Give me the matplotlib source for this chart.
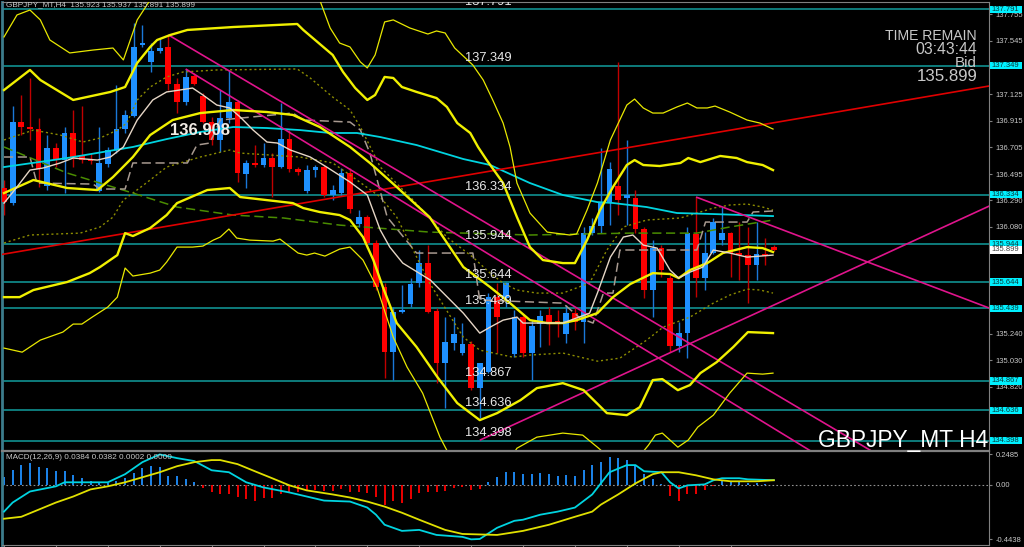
import matplotlib
matplotlib.use('Agg')
import matplotlib.pyplot as plt
import matplotlib.transforms as mtransforms
from matplotlib import font_manager
from matplotlib.patches import Rectangle
import numpy as np

# GBPJPY H4 candles, oldest first
opens = [136.386, 136.267, 136.905, 136.866, 136.850, 136.402, 136.701, 136.606, 136.819, 136.646,
         136.614, 136.362, 136.575, 136.685, 136.850, 136.953, 137.512, 137.378, 137.464, 137.496,
         137.205, 137.063, 137.268, 137.110, 136.905, 136.764, 136.937, 137.063, 136.496, 136.582,
         136.567, 136.622, 136.551, 136.772, 136.535, 136.362, 136.527, 136.551, 136.331, 136.347,
         136.504, 136.103, 136.158, 135.952, 135.606, 135.095, 135.410, 135.472, 135.637, 135.795,
         135.417, 135.007, 135.165, 135.087, 135.157, 134.811, 134.937, 135.527, 135.519, 135.079,
         135.370, 135.087, 135.315, 135.386, 135.338, 135.236, 135.402, 135.330, 136.031, 136.087,
         136.267, 136.402, 136.307, 136.307, 136.063, 135.582, 135.913, 135.677, 135.142, 135.244,
         136.024, 135.677, 135.874, 135.976, 136.031, 135.874, 135.858, 135.780, 135.866, 135.923]
highs = [136.449, 137.032, 137.118, 137.252, 136.937, 136.803, 136.740, 136.866, 137.000, 137.032,
         136.662, 136.866, 136.709, 137.197, 137.000, 137.685, 137.670, 137.527, 137.567, 137.591,
         137.252, 137.323, 137.291, 137.134, 136.945, 137.157, 137.315, 137.079, 136.606, 136.725,
         136.740, 136.662, 137.055, 136.842, 136.551, 136.567, 136.567, 136.567, 136.409, 136.543,
         136.543, 136.212, 136.173, 135.976, 135.637, 135.449, 135.622, 135.677, 135.898, 135.937,
         135.441, 135.370, 135.370, 135.322, 135.181, 135.007, 135.559, 135.637, 135.645, 135.425,
         135.386, 135.346, 135.425, 135.449, 135.425, 135.464, 135.441, 136.079, 136.150, 136.701,
         136.590, 137.378, 136.764, 136.370, 136.079, 135.976, 135.937, 135.700, 135.330, 136.079,
         136.315, 136.039, 136.150, 136.236, 136.039, 136.118, 136.079, 136.118, 135.992, 135.937]
lows = [136.173, 136.252, 136.803, 136.764, 136.394, 136.370, 136.551, 136.347, 136.551, 136.582,
        136.575, 136.354, 136.551, 136.662, 136.819, 136.945, 137.496, 137.300, 137.449, 137.157,
        136.977, 137.040, 137.197, 136.897, 136.725, 136.670, 136.897, 136.433, 136.386, 136.551,
        136.551, 136.315, 136.543, 136.512, 136.488, 136.347, 136.472, 136.315, 136.291, 136.323,
        136.189, 136.079, 135.913, 135.582, 134.890, 134.874, 135.402, 135.449, 135.606, 135.402,
        134.850, 134.653, 135.110, 135.071, 134.795, 134.574, 134.929, 135.087, 135.449, 135.055,
        135.055, 134.874, 135.134, 135.150, 135.212, 135.165, 135.267, 135.165, 136.016, 136.031,
        136.095, 136.173, 136.095, 136.031, 135.519, 135.370, 135.685, 135.095, 135.095, 135.047,
        135.527, 135.582, 135.866, 135.937, 135.685, 135.661, 135.480, 135.661, 135.780, 135.891]
closes = [136.275, 136.905, 136.866, 136.850, 136.535, 136.701, 136.606, 136.819, 136.630, 136.606,
          136.598, 136.582, 136.685, 136.850, 136.961, 137.496, 137.527, 137.464, 137.488, 137.205,
          137.063, 137.260, 137.205, 136.905, 136.764, 136.937, 137.063, 136.504, 136.582, 136.567,
          136.622, 136.551, 136.772, 136.535, 136.512, 136.527, 136.551, 136.331, 136.370, 136.504,
          136.220, 136.158, 135.952, 135.606, 135.095, 135.410, 135.425, 135.630, 135.795, 135.410,
          135.007, 135.173, 135.236, 135.157, 134.811, 135.007, 135.527, 135.370, 135.637, 135.370,
          135.087, 135.299, 135.378, 135.322, 135.322, 135.402, 135.330, 136.031, 136.087, 136.267,
          136.535, 136.291, 136.331, 136.063, 135.582, 135.913, 135.740, 135.142, 135.244, 136.031,
          135.677, 135.874, 136.118, 136.031, 135.874, 135.858, 135.780, 135.866, 135.850, 135.899]

# bollinger bands (1, 2, 3 sigma), read as (bar, price) vertices
u3_x = [0, 1.5, 3, 4.2, 5.3, 7.6, 10.3, 12.6, 13.8, 14.6, 15.4, 16.9, 19.8, 22.7, 28.4, 34.2, 36.5, 37.7, 38.8, 40,
        41.2, 42, 42.9, 44, 45, 46.9, 49, 50, 51, 52.1, 54.2, 55.4, 56.5, 57.7, 58.5, 59.3, 60.8, 62.8, 65.4, 66.2,
        67.4, 68.6, 70.1, 72, 72.9, 73.9, 75, 76.2, 77.8, 79, 80.1, 81.3, 82.2, 83.9, 85.9, 87.4, 88.9]
u3_y = [137.575, 137.748, 137.787, 137.709, 137.551, 137.449, 137.472, 137.488, 137.394, 137.551,
        137.709, 137.866, 138.023, 138.102, 138.142, 138.023, 137.866, 137.646, 137.527, 137.496,
        137.378, 137.331, 137.433, 137.693, 137.709, 137.646, 137.598, 137.622, 137.606, 137.488,
        137.354, 137.236, 137.079, 136.897, 136.709, 136.425, 136.189, 136.039, 136.016, 136.024,
        136.212, 136.425, 136.764, 137.039, 137.086, 137.016, 136.976, 136.976, 137.024, 137.055,
        137.016, 137.016, 137.031, 136.984, 136.921, 136.897, 136.850]
u2_x = [0, 3, 4.2, 8, 12.3, 14, 15.4, 16.9, 17.7, 19.2, 21.2, 26.5, 33.9, 34.6, 38, 39.2, 40.6, 42, 42.9, 44,
        45, 46, 47.7, 50, 51.2, 52.4, 53.9, 54.8, 55.8, 57.7, 59.3, 60.8, 62.3, 64.6, 66, 67.4, 68.9, 70.4, 72, 72.9,
        73.9, 75.8, 78.2, 79.1, 80.5, 82.8, 84.7, 85.9, 87.7, 88.9]
u2_y = [137.157, 137.315, 137.236, 137.079, 137.142, 137.181, 137.370, 137.496, 137.551, 137.590,
        137.630, 137.653, 137.677, 137.630, 137.433, 137.299, 137.173, 137.079, 137.118, 137.260,
        137.252, 137.181, 137.142, 137.094, 137.024, 136.897, 136.819, 136.709, 136.606, 136.425,
        136.157, 135.921, 135.819, 135.795, 135.795, 135.976, 136.212, 136.394, 136.567, 136.606,
        136.567, 136.559, 136.583, 136.622, 136.590, 136.638, 136.622, 136.590, 136.567, 136.527]
mid_x = [0, 3.4, 7.3, 10.8, 12.6, 14.9, 16.9, 19.5, 22.7, 26.5, 30.4, 33.4, 36.5, 40, 42.3, 45.4, 49.2, 53.1,
         56.2, 58.5, 60.8, 62.8, 64.6, 66.2, 68.6, 70.4, 72.4, 75, 77, 78, 79.3, 81.3, 83.1, 85.9, 87.7, 88.9]
mid_y = [136.346, 136.449, 136.386, 136.370, 136.472, 136.630, 136.803, 136.921, 136.976, 137.000,
         136.984, 136.961, 136.866, 136.709, 136.583, 136.394, 136.157, 135.764, 135.606, 135.480,
         135.346, 135.323, 135.323, 135.346, 135.401, 135.527, 135.630, 135.716, 135.709, 135.677,
         135.740, 135.795, 135.874, 135.921, 135.913, 135.882]
l2_x = [0, 1.8, 3.4, 7.3, 9.9, 11.1, 13.1, 14, 14.9, 16.9, 18.8, 20, 23.5, 26.1, 27.3, 33.4, 34.6, 36.5, 38.8, 40,
        41.5, 42.7, 43.8, 45.4, 47.7, 50.1, 52.4, 55, 57, 59.7, 61.6, 64.6, 67, 69.7, 72, 73.5, 75, 76.1, 77.9, 79.3,
        80.5, 82.4, 84.3, 86, 88.9]
l2_y = [135.527, 135.527, 135.583, 135.646, 135.716, 135.764, 135.858, 136.031, 136.008, 136.071,
        136.173, 136.267, 136.370, 136.386, 136.315, 136.267, 136.228, 136.197, 136.173, 136.134,
        136.000, 135.819, 135.606, 135.323, 135.134, 134.898, 134.693, 134.559, 134.614, 134.716,
        134.811, 134.850, 134.795, 134.614, 134.598, 134.661, 134.874, 134.882, 134.795, 134.835,
        134.929, 135.016, 135.134, 135.252, 135.244]
l3_x = [0, 2.1, 4.2, 6.8, 8, 9, 10.2, 12, 13.1, 14, 14.9, 16.9, 18, 18.8, 20, 21.8, 23, 24.2, 25, 26,
        26.9, 28.4, 31.1, 31.9, 32.8, 34, 35, 35.9, 37.1, 38.8, 40, 41.5, 43.1, 45, 46.6, 48.4, 50.4, 52.7, 55, 57.3,
        59.3, 61.6, 64.6, 66.9, 68.6, 70.6, 72.9, 74.5, 75.3, 76.1, 77.9, 79.1, 80.2, 82, 83.9, 85.9, 87.7, 88.9]
l3_y = [135.126, 135.094, 135.189, 135.252, 135.315, 135.315, 135.370, 135.449, 135.527, 135.756,
        135.693, 135.716, 135.740, 135.803, 135.921, 135.921, 135.929, 135.976, 136.000, 136.063,
        135.992, 135.976, 135.968, 135.984, 135.937, 135.874, 135.858, 135.874, 135.850, 135.905,
        135.921, 135.819, 135.606, 135.212, 134.976, 134.771, 134.425, 134.126, 134.008, 134.126,
        134.338, 134.425, 134.457, 134.441, 134.346, 134.228, 134.228, 134.362, 134.441, 134.457,
        134.346, 134.402, 134.504, 134.598, 134.772, 134.929, 134.921, 134.929]
u1_x = [0, 3.4, 6.5, 9.1, 11.1, 13.1, 14.2, 15.4, 16.9, 18.8, 20.7, 24.6, 33.9, 35.4, 38, 40, 41.2, 43.5, 47.3,
        51.2, 54.2, 56.2, 57.7, 59.3, 61.6, 64.6, 67.7, 69.7, 71.6, 74.3, 78.2, 80.1, 82, 83.9, 85.9, 87.7, 88.9]
u1_y = [136.764, 136.842, 136.803, 136.748, 136.779, 136.842, 136.897, 137.079, 137.181, 137.260,
        137.299, 137.315, 137.323, 137.252, 137.102, 137.000, 136.866, 136.551, 136.291, 135.999,
        135.842, 135.716, 135.638, 135.583, 135.559, 135.559, 135.638, 135.898, 136.079, 136.134,
        136.150, 136.189, 136.228, 136.252, 136.260, 136.236, 136.212]
l1_x = [0, 3, 8.8, 11.1, 12.6, 13.8, 14.9, 16.9, 18.8, 22.7, 26.1, 27.3, 34.2, 38, 40, 43.5, 45.4, 47.3, 49.2,
        53.1, 55, 58.8, 60.8, 64.6, 68.6, 71.2, 74.3, 76.2, 79.3, 82, 83.9, 85.9, 87.4, 88.9]
l1_y = [135.953, 136.016, 136.031, 136.079, 136.157, 136.291, 136.346, 136.449, 136.551, 136.630,
        136.685, 136.661, 136.630, 136.583, 136.488, 136.315, 136.157, 135.898, 135.638, 135.212,
        135.110, 135.055, 135.071, 135.087, 135.023, 135.047, 135.189, 135.291, 135.370, 135.480,
        135.543, 135.590, 135.583, 135.559]

# moving averages and other lines
slow_x = [0, 7.3, 14.9, 18.8, 22.7, 26.5, 30.4, 34.2, 37.7, 40.8, 43.5, 47.7, 50.4, 53.1, 56.2, 60.8, 64.6,
          68.6, 70.4, 74.3, 77.8, 82, 88.9]
slow_y = [136.551, 136.622, 136.709, 136.771, 136.827, 136.866, 136.858, 136.842, 136.819, 136.819,
          136.787, 136.724, 136.669, 136.614, 136.567, 136.425, 136.331, 136.275, 136.268, 136.236,
          136.189, 136.181, 136.165]
fast_x = [0, 1.5, 3, 4.5, 6.5, 8, 10.8, 12.3, 13.8, 15.4, 17.2, 18.8, 20.3, 21.8, 23, 24.6, 26.1, 27.3, 28.8,
          30.4, 31.6, 33.1, 35.4, 37.3, 40, 42, 43.5, 44.6, 46.1, 49.3, 53.1, 55, 56.2, 57.7, 59.3, 60, 64.6, 67.7,
          68.6, 70.1, 71.6, 72.7, 73.9, 75.5, 77, 78, 79.3, 80.8, 82, 83.9, 85.9, 88.9]
fast_y = [136.267, 136.394, 136.527, 136.543, 136.583, 136.622, 136.606, 136.630, 136.709, 136.921,
          137.079, 137.142, 137.157, 137.173, 137.118, 137.039, 137.016, 136.945, 136.842, 136.748,
          136.740, 136.685, 136.630, 136.551, 136.433, 136.331, 136.055, 135.921, 135.795, 135.661,
          135.401, 135.244, 135.291, 135.346, 135.370, 135.323, 135.323, 135.401, 135.559, 135.842,
          136.000, 136.016, 135.937, 135.913, 135.740, 135.677, 135.724, 135.764, 135.898, 135.874,
          135.842, 135.858]
kijun_x = [0, 3, 3.8, 10.3, 11.1, 14, 14.9, 21.2, 22.3, 23.8, 25, 33.4, 34.6, 40, 41.2, 42.3, 44.3, 47.7, 54.2,
           55, 64.6, 66.6, 68.1, 69.3, 70.4, 71.2, 80.1, 81.1, 85.9, 86.6, 88.9]
kijun_y = [136.630, 136.630, 136.425, 136.417, 136.378, 136.378, 136.583, 136.583, 136.724, 136.740,
           136.921, 136.976, 136.921, 136.905, 136.842, 136.661, 136.157, 135.874, 135.874, 135.504,
           135.480, 135.362, 135.323, 135.559, 135.559, 135.898, 135.898, 136.118, 136.118, 136.197, 136.205]
green_x = [0, 7.3, 14.9, 20, 26.5, 32.3, 38.8, 49.2, 60.8, 72.4, 80.1, 83.9, 88.9]
green_y = [136.709, 136.504, 136.346, 136.236, 136.173, 136.150, 136.094, 136.039, 136.016, 136.031,
           136.031, 136.079, 136.134]

# drawn objects
hlines = [137.791, 137.349, 136.334, 135.944, 135.644, 135.439, 134.867, 134.636, 134.398]
price_ticks = [137.755, 137.545, 137.125, 136.915, 136.705, 136.495, 136.290, 136.080,
               135.240, 135.030, 134.820]
red_line = [(0, 135.866), (113.9, 137.189)]
pink_lines = [[(19, 137.591), (50, 136.342)],
              [(21, 137.323), (52, 136.033)],
              [(80, 136.315), (113.9, 135.441)],
              [(55, 134.401), (113.9, 136.244)]]
bid = 135.899

# MACD(12,26,9)
macd_x = [0, 1, 3, 6, 7, 12, 14, 16, 18, 20, 22, 24, 26, 28, 30, 33, 35, 37, 40, 42, 43, 44, 46, 48, 50,
          53, 54, 55, 57, 59, 60, 62, 64, 66, 68, 70, 72, 73, 74, 76, 77, 78, 79, 81, 82, 83, 85, 86, 89]
macd_y = [-0.218, -0.144, -0.054, -0.012, 0.021, 0.021, 0.087, 0.185, 0.248, 0.218, 0.194, 0.119, 0.103,
          0.021, -0.021, -0.062, -0.095, -0.128, -0.136, -0.185, -0.243, -0.325, -0.375, -0.367, -0.408,
          -0.424, -0.444, -0.441, -0.350, -0.293, -0.284, -0.243, -0.218, -0.185, -0.078, 0.103, 0.161,
          0.161, 0.111, 0.103, 0.021, -0.029, -0.004, 0.004, 0.037, 0.054, 0.054, 0.045, 0.038]
signal_x = [0, 2, 4, 6, 8, 10, 12, 14, 16, 18, 20, 22, 24, 25, 27, 29, 31, 33, 35, 38, 40, 42, 44, 46, 48,
            51, 53, 57, 60, 63, 66, 68, 69, 71, 73, 75, 76, 78, 80, 82, 84, 87, 89]
signal_y = [-0.276, -0.260, -0.202, -0.144, -0.095, -0.037, -0.012, 0.021, 0.062, 0.103, 0.152, 0.185,
            0.202, 0.202, 0.169, 0.111, 0.054, -0.004, -0.045, -0.078, -0.103, -0.136, -0.177, -0.227,
            -0.284, -0.367, -0.400, -0.408, -0.375, -0.325, -0.260, -0.218, -0.161, -0.078, 0.012, 0.087,
            0.103, 0.103, 0.078, 0.045, 0.029, 0.029, 0.038]
hist = [0.062, 0.119, 0.161, 0.177, 0.144, 0.136, 0.111, 0.111, 0.078, 0.054,
        0.029, 0.012, 0.012, 0.029, 0.054, 0.095, 0.136, 0.152, 0.144, 0.070,
        0.070, 0.045, 0.021, -0.029, -0.062, -0.078, -0.078, -0.095, -0.119, -0.128,
        -0.111, -0.103, -0.078, -0.062, -0.062, -0.054, -0.045, -0.054, -0.054, -0.037,
        -0.062, -0.062, -0.070, -0.095, -0.161, -0.128, -0.144, -0.119, -0.070, -0.062,
        -0.062, -0.054, -0.029, -0.021, -0.045, -0.037, 0.021, 0.062, 0.103, 0.103,
        0.087, 0.087, 0.095, 0.087, 0.070, 0.078, 0.070, 0.119, 0.161, 0.185,
        0.227, 0.218, 0.202, 0.152, 0.087, 0.045, 0.008, -0.087, -0.128, -0.078,
        -0.078, -0.045, -0.008, 0.029, 0.029, 0.021, 0.012, 0.012, 0.004, 0.0002]

names = {f.name for f in font_manager.fontManager.ttflist}
if 'Liberation Sans Narrow' in names:
    NARROW, K = 'Liberation Sans Narrow', 1.0
else:
    NARROW, K = 'Liberation Sans', 0.84

BG = 'black'
GRID = '#808080'
TXT = '#c8c8c8'
XLIM = (-0.231, 113.87)


def ray(ax, p1, p2, color, x0=None, x1=114.5):
    slope = (p2[1] - p1[1]) / (p2[0] - p1[0])
    xs = p1[0] if x0 is None else x0
    ax.plot([xs, x1], [p1[1] + slope * (xs - p1[0]), p1[1] + slope * (x1 - p1[0])],
            color=color, lw=1.2, zorder=4, solid_capstyle='butt')


def price_box(ax, trans, level, fc, tc):
    # small label box on the price scale
    hgt = 0.06
    ax.add_patch(Rectangle((1.001, level - hgt / 2), 0.032, hgt, transform=trans, fc=fc, ec='none',
                           clip_on=False, zorder=9))
    ax.text(1.017, level, f'{level:.3f}', transform=trans, ha='center', va='center', fontsize=6.5 * K,
            family=NARROW, color=tc, clip_on=False, zorder=10)


fig = plt.figure(figsize=(10.24, 5.47), dpi=100, facecolor=BG)
ax = fig.add_axes([2 / 1024, 96 / 547, 987 / 1024, 449 / 547], facecolor=BG)
ax2 = fig.add_axes([2 / 1024, 2 / 547, 987 / 1024, 94 / 547], facecolor=BG)

# ---- main panel
ax.set_xlim(*XLIM)
ax.set_ylim(134.316, 137.850)

for lv in hlines:
    ax.axhline(lv, color='#0f8585', lw=1.3, zorder=1)
    ax.annotate(f'{lv:.3f}', xy=(53.3, lv), xytext=(0, 1.2), textcoords='offset points',
                ha='left', va='bottom', color='#e8e8e8', fontsize=11 * K, family=NARROW,
                zorder=8, annotation_clip=False, clip_on=True)

idx = np.arange(len(opens))
o = np.array(opens)
c = np.array(closes)
up = c >= o
body_col = np.where(up, '#1e90ff', '#ff0000')
wick_col = np.where(up, '#1a78d8', '#c00000')
ax.vlines(idx, lows, highs, colors=wick_col, lw=1.0, zorder=2)
ax.bar(idx, np.maximum(np.abs(c - o), 0.006), bottom=np.minimum(o, c), width=0.66,
       color=body_col, linewidth=0, zorder=3)

ax.plot(u1_x, u1_y, color='#8c8c00', lw=1.0, ls=(0, (1.5, 2)), zorder=4)
ax.plot(l1_x, l1_y, color='#8c8c00', lw=1.0, ls=(0, (1.5, 2)), zorder=4)
ax.plot(green_x, green_y, color='#4a8c00', lw=1.1, ls=(0, (6, 3)), zorder=4)
ax.plot(kijun_x, kijun_y, color='#a89a90', lw=1.1, ls=(0, (6, 3)), zorder=4)
ax.plot(slow_x, slow_y, color='#00d4e0', lw=1.3, zorder=4)
ax.plot(u3_x, u3_y, color='#e8e800', lw=0.9, zorder=5)
ax.plot(l3_x, l3_y, color='#e8e800', lw=0.9, zorder=5)
ax.plot(u2_x, u2_y, color='#f0f000', lw=1.7, zorder=5)
ax.plot(mid_x, mid_y, color='#f0f000', lw=1.7, zorder=5)
ax.plot(l2_x, l2_y, color='#f0f000', lw=1.7, zorder=5)
ax.plot(fast_x, fast_y, color='#e6d6c6', lw=1.0, zorder=5)

ray(ax, red_line[0], red_line[1], '#e00000', x0=XLIM[0])
for p1, p2 in pink_lines:
    ray(ax, p1, p2, '#e0148c')

ax.text(22.7, 136.842, '136.908', ha='center', va='center', color='#f2ebe4', fontsize=12,
        fontweight='bold', family='Liberation Sans', zorder=8)

ax.yaxis.tick_right()
ax.set_yticks(price_ticks)
ax.set_yticklabels([f'{t:.3f}' for t in price_ticks])
ax.tick_params(axis='y', colors=GRID, labelcolor=TXT, length=2.5, width=0.8, labelsize=6.5 * K, pad=2)
for lab in ax.get_yticklabels():
    lab.set_family(NARROW)
ax.set_xticks([])

trans = mtransforms.blended_transform_factory(ax.transAxes, ax.transData)
for lv in hlines:
    price_box(ax, trans, lv, '#00f0ff', '#0a3a3a')
price_box(ax, trans, bid, 'white', '#404040')

for s in ['top', 'right']:
    ax.spines[s].set_color(GRID)
ax.spines['left'].set_color('#3c7c8c')
ax.spines['left'].set_linewidth(2)
ax.spines['bottom'].set_visible(False)

# ---- MACD panel
ax2.set_xlim(*XLIM)
ax2.set_ylim(-0.490, 0.276)
ax2.axhline(0, color='#909090', lw=0.8, ls=(0, (1.5, 2)), zorder=1)
h = np.array(hist)
ax2.vlines(np.arange(len(h)), 0, h, colors=np.where(h >= 0, '#1e90ff', '#ff0000'), lw=1.3, zorder=2)
ax2.plot(macd_x, macd_y, color='#00d4e0', lw=1.3, zorder=3)
ax2.plot(signal_x, signal_y, color='#e0e000', lw=1.3, zorder=3)

ax2.yaxis.tick_right()
ax2.set_yticks([0.2485, 0.0, -0.4438])
ax2.set_yticklabels(['0.2485', '0.00', '-0.4438'])
ax2.tick_params(axis='y', colors=GRID, labelcolor=TXT, length=2.5, width=0.8, labelsize=6.5 * K, pad=2)
for lab in ax2.get_yticklabels():
    lab.set_family(NARROW)
ax2.set_xticks(np.arange(0, 90, 6))
ax2.tick_params(axis='x', colors=GRID, length=3, width=0.8, labelbottom=False)
for s in ['top', 'right', 'bottom']:
    ax2.spines[s].set_color(GRID)
ax2.spines['top'].set_linewidth(1.6)
ax2.spines['left'].set_color('#3c7c8c')
ax2.spines['left'].set_linewidth(2)
ax2.text(0.004, 0.965, 'MACD(12,26,9) 0.0384 0.0382 0.0002 0.0000', transform=ax2.transAxes,
         ha='left', va='top', color=TXT, fontsize=7 * K, family=NARROW)

# ---- overlay texts
fig.text(6 / 1024, 1 - 1.5 / 547, 'GBPJPY_MT,H4  135.923 135.937 135.891 135.899', ha='left', va='top',
         color=TXT, fontsize=7 * K, family=NARROW)
fig.text(977 / 1024, 1 - 40.5 / 547, 'TIME REMAIN', ha='right', va='baseline', color=TXT, fontsize=12 * K, family=NARROW)
fig.text(977 / 1024, 1 - 54 / 547, '03:43:44', ha='right', va='baseline', color=TXT, fontsize=13.5 * K, family=NARROW)
fig.text(977 / 1024, 1 - 67 / 547, 'Bid', ha='right', va='baseline', color=TXT, fontsize=13 * K, family=NARROW)
fig.text(977 / 1024, 1 - 80.5 / 547, '135.899', ha='right', va='baseline', color=TXT, fontsize=14.5 * K, family=NARROW)
fig.text(988 / 1024, 1 - 447 / 547, 'GBPJPY_MT H4', ha='right', va='baseline', color='white',
         fontsize=19.5 * K, family=NARROW, zorder=10)

fig.savefig('out.png', dpi=100, facecolor=BG)
